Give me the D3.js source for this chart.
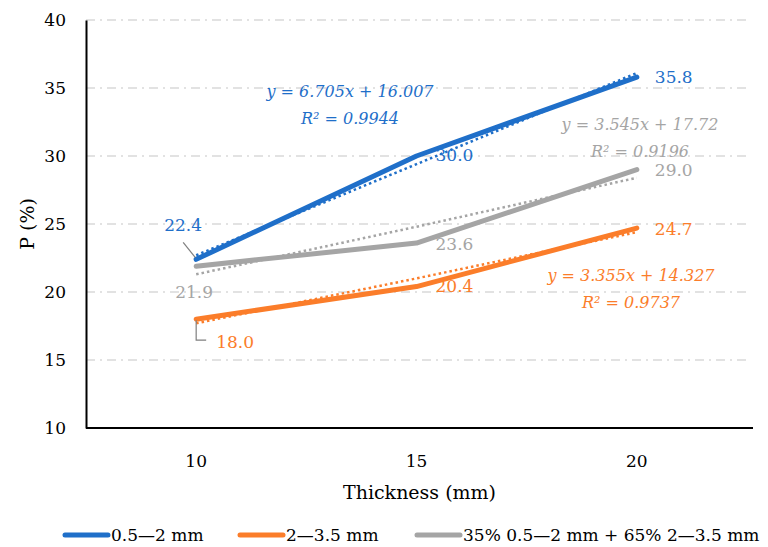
<!DOCTYPE html>
<html>
<head>
<meta charset="utf-8">
<script src="https://cdn.jsdelivr.net/npm/d3@7"></script>
<style>
  body { margin: 0; background: #fff; }
  text { font-family: "DejaVu Serif", serif; }
</style>
</head>
<body>
<div id="chart"></div>
<script>
// Data
const thickness = ["10", "15", "20"];
const fine = [22.4, 30.0, 35.8];          // 0.5-2 mm
const coarse = [18.0, 20.4, 24.7];        // 2-3.5 mm
const mixed = [21.9, 23.6, 29.0];         // 35% + 65%
const fineTrend = [22.7, 29.4, 36.1];
const coarseTrend = [17.7, 21.0, 24.4];
const mixedTrend = [21.3, 24.8, 28.4];
const yTicks = [10, 15, 20, 25, 30, 35, 40];
const seriesNames = ["0.5\u20142 mm", "2\u20143.5 mm", "35% 0.5\u20142 mm + 65% 2\u20143.5 mm"];

const colors = ["#1f6fc9", "#fb7d2a", "#a5a5a5"];

const W = 768, H = 547;
const margin = { top: 20, right: 15, bottom: 119, left: 86 };
const width = W - margin.left - margin.right,
      height = H - margin.top - margin.bottom;

const svg = d3.select("#chart")
    .append("svg")
    .attr("width", W)
    .attr("height", H);

const g = svg.append("g")
    .attr("transform", `translate(${margin.left},${margin.top})`);

const x = d3.scaleBand().domain(thickness).range([0, width - 6]);
const y = d3.scaleLinear().domain([10, 40]).range([height, 0]);
const cx = d => x(d) + x.bandwidth() / 2;

// gridlines (dash-dot)
g.append("g")
    .selectAll("line")
    .data(yTicks.slice(1))
    .enter()
    .append("line")
    .attr("x1", 0)
    .attr("x2", width - 5)
    .attr("y1", d => y(d))
    .attr("y2", d => y(d))
    .attr("stroke", "#d9d9d9")
    .attr("stroke-width", 1.5)
    .attr("stroke-dasharray", "9,5,2,5");

// axes
const yAxis = g.append("g")
    .call(d3.axisLeft(y).tickValues(yTicks).tickSize(0).tickPadding(20));
yAxis.select(".domain").attr("stroke", "#000").attr("stroke-width", 2);
yAxis.selectAll("text").attr("font-size", 17).attr("fill", "#000")
    .attr("font-family", "DejaVu Serif");

const xAxis = g.append("g")
    .attr("transform", `translate(0,${height})`)
    .call(d3.axisBottom(x).tickSize(0).tickPadding(27));
xAxis.select(".domain").attr("stroke", "#000").attr("stroke-width", 2)
    .attr("d", `M0,0H${width}`);
xAxis.selectAll("text").attr("font-size", 17).attr("fill", "#000")
    .attr("font-family", "DejaVu Serif");

// axis titles
svg.append("text")
    .attr("x", margin.left + width / 2)
    .attr("y", 499)
    .attr("text-anchor", "middle")
    .attr("font-size", 19)
    .text("Thickness (mm)");

svg.append("text")
    .attr("transform", `translate(34,${margin.top + y(25)}) rotate(-90)`)
    .attr("text-anchor", "middle")
    .attr("font-size", 19)
    .text("P (%)");

const line = d3.line()
    .x((d, i) => cx(thickness[i]))
    .y(d => y(d));

const series = [fine, coarse, mixed];
const trends = [fineTrend, coarseTrend, mixedTrend];

// series lines
series.forEach((s, k) => {
    g.append("path")
        .datum(s)
        .attr("fill", "none")
        .attr("stroke", colors[k])
        .attr("stroke-width", 5)
        .attr("stroke-linecap", "round")
        .attr("stroke-linejoin", "round")
        .attr("d", line);
});

// linear trendlines (dotted)
trends.forEach((t, k) => {
    g.append("path")
        .datum(t)
        .attr("fill", "none")
        .attr("stroke", colors[k])
        .attr("stroke-width", 2.5)
        .attr("stroke-dasharray", "2.5,3")
        .attr("d", line);
});

// data labels: [series index, point index, dx, dy]
const labelOffsets = [
    [0, 0, -32, -34], [0, 1, 19, -1], [0, 2, 18, 0],
    [1, 0, 20, 23], [1, 1, 19, -1], [1, 2, 18, 1],
    [2, 0, -21, 26], [2, 1, 19, 1], [2, 2, 18, 0]
];
labelOffsets.forEach(([k, i, dx, dy]) => {
    g.append("text")
        .attr("x", cx(thickness[i]) + dx)
        .attr("y", y(series[k][i]) + dy)
        .attr("dy", "0.35em")
        .attr("font-size", 17)
        .attr("fill", colors[k])
        .text(series[k][i].toFixed(1));
});

// leader lines
g.append("path")
    .attr("d", `M${cx("10") - 13},${y(fine[0]) - 17}L${cx("10") - 1},${y(fine[0]) - 2}`)
    .attr("stroke", "#7f7f7f").attr("stroke-width", 1.2).attr("fill", "none");
g.append("path")
    .attr("d", `M${cx("10")},${y(coarse[0]) + 1}V${y(coarse[0]) + 21}H${cx("10") + 10}`)
    .attr("stroke", "#7f7f7f").attr("stroke-width", 1.2).attr("fill", "none");

// trendline equations
const equations = [
    { k: 0, cx: 350, cy: 91, lines: ["y = 6.705x + 16.007", "R² = 0.9944"] },
    { k: 2, cx: 640, cy: 124, lines: ["y = 3.545x + 17.72", "R² = 0.9196"] },
    { k: 1, cx: 631, cy: 275, lines: ["y = 3.355x + 14.327", "R² = 0.9737"] }
];
equations.forEach(e => {
    e.lines.forEach((t, j) => {
        svg.append("text")
            .attr("x", e.cx)
            .attr("y", e.cy + j * 27)
            .attr("dy", "0.35em")
            .attr("text-anchor", "middle")
            .attr("font-size", 16)
            .attr("font-style", "italic")
            .attr("fill", colors[e.k])
            .text(t);
    });
});

// legend
const legendX = [65, 240, 417];
const legend = svg.append("g").attr("transform", "translate(0,535)");
seriesNames.forEach((name, k) => {
    legend.append("line")
        .attr("x1", legendX[k]).attr("x2", legendX[k] + 43)
        .attr("y1", 0).attr("y2", 0)
        .attr("stroke", colors[k])
        .attr("stroke-width", 5)
        .attr("stroke-linecap", "round");
    legend.append("text")
        .attr("x", legendX[k] + 46)
        .attr("y", 0)
        .attr("dy", "0.35em")
        .attr("font-size", 17)
        .text(name);
});
</script>
</body>
</html>
